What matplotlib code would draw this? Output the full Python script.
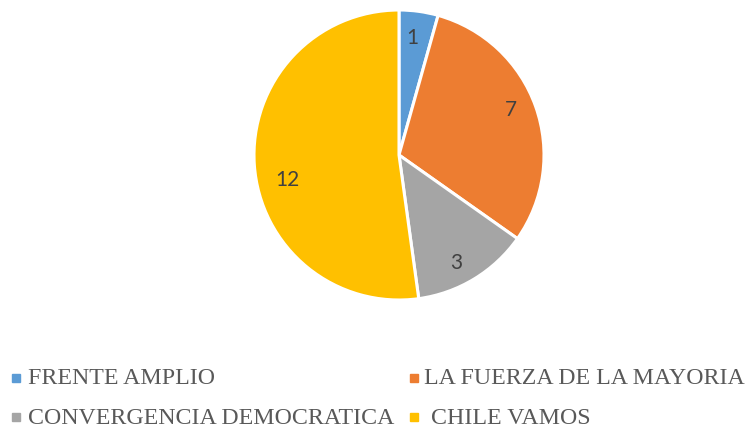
import numpy as np
import matplotlib.pyplot as plt
from matplotlib.patches import Rectangle

parties = ["FRENTE AMPLIO", "LA FUERZA DE LA MAYORIA", "CONVERGENCIA DEMOCRATICA", "CHILE VAMOS"]
seats = [1, 7, 3, 12]
colors = ["#5B9BD5", "#ED7D31", "#A5A5A5", "#FFC000"]

W, H = 747, 430
fig = plt.figure(figsize=(W / 100, H / 100), dpi=100)

# pie centred at (399,155) px with radius 145 px
cx, cy, r = 399, 155, 145
ax = fig.add_axes([(cx - r) / W, 1 - (cy + r) / H, 2 * r / W, 2 * r / H])
wedges, texts = ax.pie(
    seats, colors=colors, startangle=90, counterclock=False,
    wedgeprops=dict(edgecolor="white", linewidth=2.2))
ax.set_xlim(-1, 1)
ax.set_ylim(-1, 1)
ax.set_aspect("equal")
ax.axis("off")

# value labels, "best fit" style: small angle shift and radius per slice
label_shift = [1.5, 2.5, -3.5, 8.5]
label_rad = [0.81, 0.83, 0.84, 0.79]
for w, v, da, lr in zip(wedges, seats, label_shift, label_rad):
    a = np.deg2rad((w.theta1 + w.theta2) / 2 + da)
    ax.text(lr * np.cos(a), lr * np.sin(a), str(v), ha="center", va="center",
            fontsize=15, color="#404040", family="Lato")

# legend laid out like the original (two columns, two rows)
legend_pos = [(12, 378), (410, 378), (12, 417), (410, 417)]
text_dx = [16, 14, 16, 21]
for (lx, ly), dx, name, c in zip(legend_pos, text_dx, parties, colors):
    fig.patches.append(Rectangle((lx / W, 1 - (ly + 4) / H), 8 / W, 8 / H,
                                 transform=fig.transFigure, color=c))
    fig.text((lx + dx) / W, 1 - (ly + 1) / H, name, fontsize=17.2, color="#595959",
             family="Liberation Serif", va="center", ha="left")

fig.savefig("out.png", dpi=100)
